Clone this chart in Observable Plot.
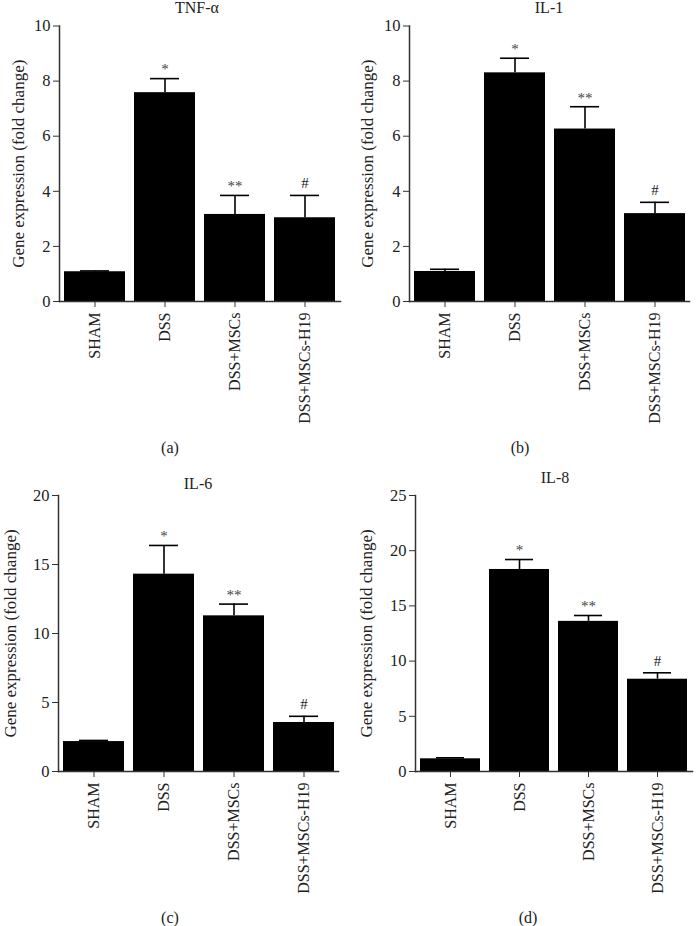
<!DOCTYPE html>
<html>
<head>
<meta charset="utf-8">
<script src="https://cdn.jsdelivr.net/npm/d3@7"></script>
<script src="https://cdn.jsdelivr.net/npm/@observablehq/plot@0.6"></script>
<style>
  html, body { margin: 0; padding: 0; background: #fff; }
  #page { position: relative; width: 697px; height: 926px; background: #fff; overflow: hidden;
          font-family: "Liberation Serif", "DejaVu Serif", serif; color: #222; }
  .panel { position: absolute; }
  .ttl, .cap { position: absolute; font-size: 16px; line-height: 16px; transform: translate(-50%, -50%); white-space: nowrap; }
  .cap { font-size: 16px; }
</style>
</head>
<body>
<div id="page"></div>
<script>
// ---- data ----
const groups = ["SHAM", "DSS", "DSS+MSCs", "DSS+MSCs-H19"];
const sigMarks = ["", "*", "**", "#"];

const tnfMean = [1.08, 7.58, 3.16, 3.04];
const tnfErr  = [0.03, 0.51, 0.69, 0.81];
const il1Mean = [1.09, 8.30, 6.26, 3.19];
const il1Err  = [0.08, 0.53, 0.81, 0.41];
const il6Mean = [2.17, 14.30, 11.28, 3.55];
const il6Err  = [0.08, 2.08, 0.85, 0.45];
const il8Mean = [1.15, 18.30, 13.60, 8.36];
const il8Err  = [0.09, 0.90, 0.53, 0.58];

const ticks10 = [0, 2, 4, 6, 8, 10];
const ticks20 = [0, 5, 10, 15, 20];
const ticks25 = [0, 5, 10, 15, 20, 25];

const titles = ["TNF-α", "IL-1", "IL-6", "IL-8"];
const captions = ["(a)", "(b)", "(c)", "(d)"];
const yLabel = "Gene expression (fold change)";

// ---- drawing ----
const page = document.getElementById("page");

function makePanel(means, errs, ticks, g) {
  const rows = groups.map((name, i) => ({group: name, mean: means[i], top: means[i] + errs[i], sig: sigMarks[i]}));
  const plot = Plot.plot({
    width: g.w, height: g.h,
    marginLeft: g.ml, marginRight: g.mr, marginTop: g.mt, marginBottom: g.mb,
    style: {fontFamily: "Liberation Serif", fontSize: "16px", color: "#222", background: "#fff", overflow: "visible"},
    x: {domain: groups, paddingInner: 0.13, paddingOuter: 0.06, label: null},
    y: {domain: [ticks[0], ticks[ticks.length - 1]], label: null},
    marks: [
      Plot.barY(rows, {x: "group", y: "mean", fill: "#000"}),
      Plot.ruleX(rows, {x: "group", y1: "mean", y2: "top", stroke: "#000", strokeWidth: 1.6}),
      Plot.tickY(rows, {x: "group", y: "top", stroke: "#000", strokeWidth: 1.6, insetLeft: 16, insetRight: 16}),
      Plot.text(rows.filter(d => d.sig.startsWith("*")), {x: "group", y: "top", text: "sig", dy: -9, fontSize: 15, fill: "#444"}),
      Plot.text(rows.filter(d => d.sig === "#"), {x: "group", y: "top", text: "sig", dy: -12, fontSize: 15, fill: "#222"}),
      Plot.frame({anchor: "left", stroke: "#333", strokeWidth: 1.5}),
      Plot.frame({anchor: "bottom", stroke: "#333", strokeWidth: 1.5}),
      Plot.axisY({ticks: ticks, tickSize: 6, tickPadding: 3, label: null, fontSize: 16.5, stroke: "#333"}),
      Plot.axisX({tickRotate: -90, tickSize: 6, tickPadding: 5, label: null, fontSize: 16, stroke: "#333"}),
      Plot.text([yLabel], {frameAnchor: "left", textAnchor: "middle", rotate: -90, dx: -g.lab, fontSize: 17, fill: "#222"})
    ]
  });
  const wrap = document.createElement("div");
  wrap.className = "panel";
  wrap.style.left = g.x + "px";
  wrap.style.top = g.y + "px";
  wrap.appendChild(plot);
  page.appendChild(wrap);
}

function addText(cls, txt, x, y) {
  const d = document.createElement("div");
  d.className = cls;
  d.textContent = txt;
  d.style.left = x + "px";
  d.style.top = y + "px";
  page.appendChild(d);
}

makePanel(tnfMean, tnfErr, ticks10, {x: 0,   y: 15,  w: 348, h: 415, ml: 59, mr: 8,  mt: 10.5, mb: 129, lab: 41});
makePanel(il1Mean, il1Err, ticks10, {x: 347, y: 15,  w: 350, h: 415, ml: 62, mr: 8,  mt: 10.5, mb: 129, lab: 42});
makePanel(il6Mean, il6Err, ticks20, {x: 0,   y: 485, w: 348, h: 411, ml: 58, mr: 10, mt: 10,   mb: 125, lab: 48});
makePanel(il8Mean, il8Err, ticks25, {x: 347, y: 485, w: 350, h: 411, ml: 68, mr: 5,  mt: 10,   mb: 125, lab: 49});

addText("ttl", titles[0], 197, 8);
addText("ttl", titles[1], 549, 8);
addText("ttl", titles[2], 198, 484);
addText("ttl", titles[3], 555, 478);
addText("cap", captions[0], 170, 448);
addText("cap", captions[1], 520, 448);
addText("cap", captions[2], 170, 918);
addText("cap", captions[3], 528, 918);
</script>
</body>
</html>
